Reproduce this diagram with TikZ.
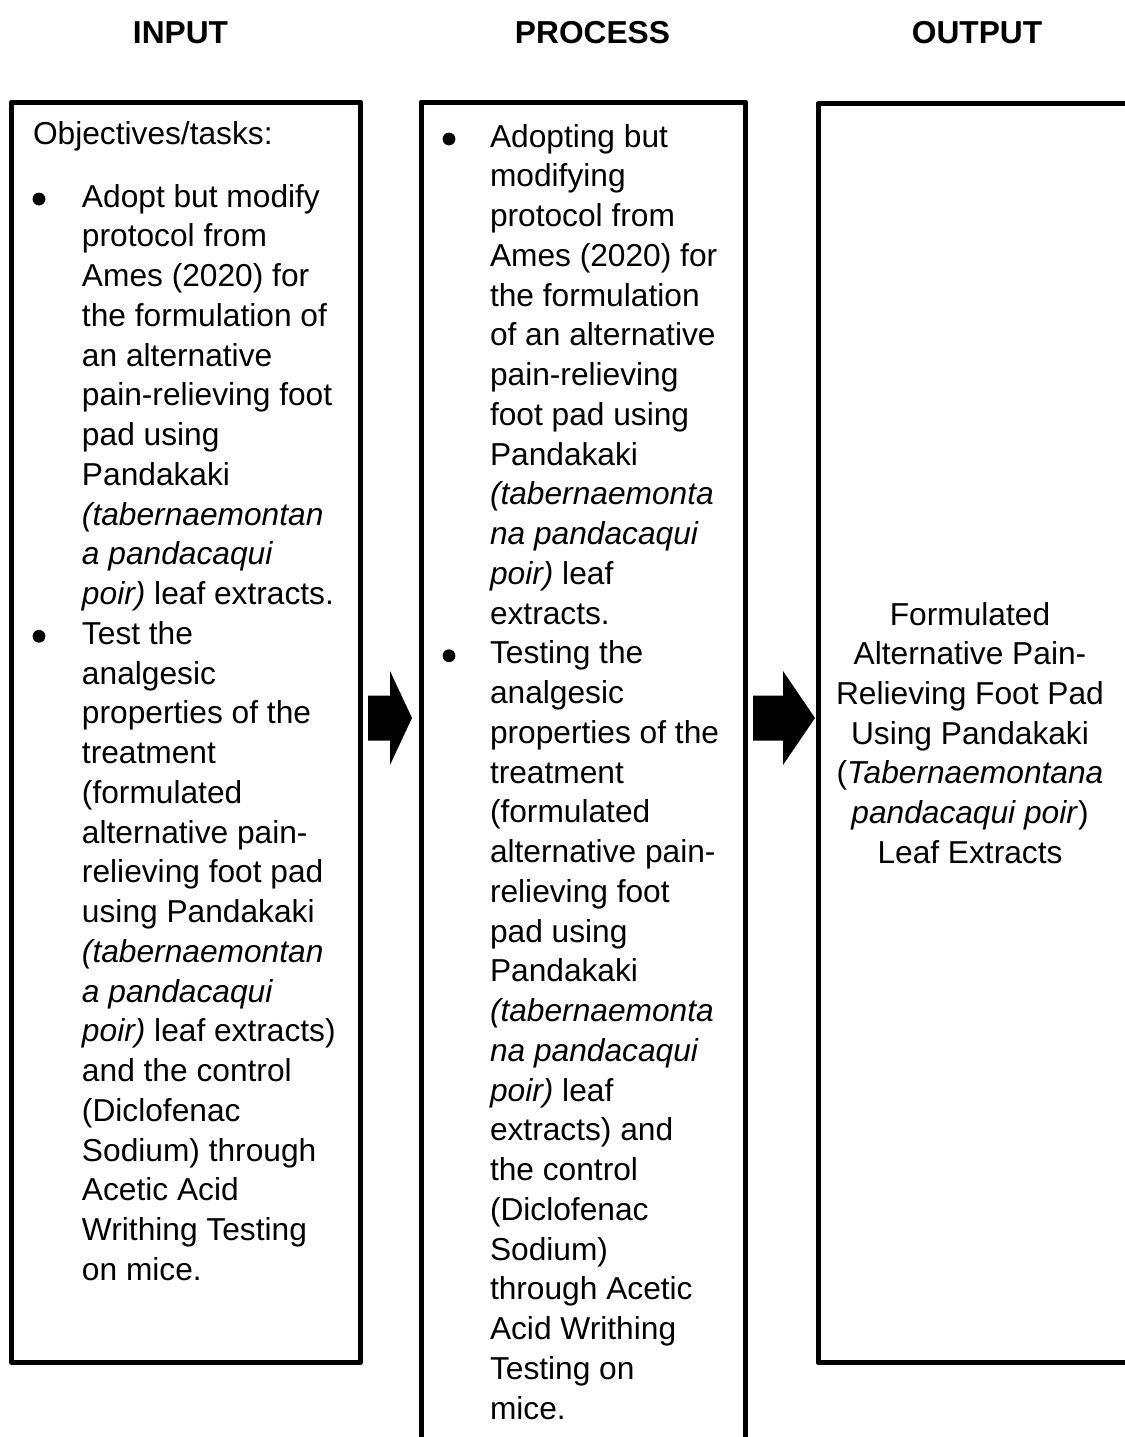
\documentclass[tikz,border=0pt]{standalone}
\usepackage{fontspec}
\setmainfont{Liberation Sans}
\begin{document}
\begin{tikzpicture}[x=0.5pt,y=-0.5pt,
  frame/.style={draw=black,line width=2.5pt,line join=round},
  txt/.style={inner sep=0pt,outer sep=0pt,font=\fontsize{15.85}{19}\selectfont,anchor=base west},
  ctxt/.style={txt,anchor=base},
  head/.style={inner sep=0pt,font=\fontsize{15.85}{19}\selectfont\bfseries,anchor=base},
  dot/.style={fill=black,draw=none},
  blockarrow/.style={fill=black,draw=none}]
\useasboundingbox (0,0) rectangle (1125,1437);
\clip (0,0) rectangle (1125,1437);
\fill[white] (0,0) rectangle (1125,1437);

% headers
\node[head] (hin) at (180.5,43) {INPUT};
\node[head] (hpr) at (592.5,43) {PROCESS};
\node[head] (hout) at (977,43) {OUTPUT};

% boxes
\coordinate (in-nw) at (11.5,102);
\coordinate (in-se) at (360.5,1362.5);
\draw[frame] (in-nw) rectangle (in-se);
\draw[frame] (421,1460) -- (421,102) -- (745.5,102) -- (745.5,1460);
\draw[frame] (1140,103.5) -- (818,103.5) -- (818,1362.5) -- (1140,1362.5);

% arrows
\path[blockarrow] (368,695.5) -- (390,695.5) -- (390,671) -- (412,718) -- (390,765) -- (390,740.5) -- (368,740.5) -- cycle;
\path[blockarrow] (753,695.5) -- (783,695.5) -- (783,671) -- (815,718) -- (783,765) -- (783,740.5) -- (753,740.5) -- cycle;

% input text
\node[txt] (obj) at (33,144) {Objectives/tasks:};
\foreach \t [count=\i from 0] in {
  {Adopt but modify}, {protocol from}, {Ames (2020) for}, {the formulation of},
  {an alternative}, {pain-relieving foot}, {pad using}, {Pandakaki},
  {\textit{(tabernaemontan}}, {\textit{a pandacaqui}}, {\textit{poir)} leaf extracts.},
  {Test the}, {analgesic}, {properties of the}, {treatment}, {(formulated},
  {alternative pain-}, {relieving foot pad}, {using Pandakaki},
  {\textit{(tabernaemontan}}, {\textit{a pandacaqui}}, {\textit{poir)} leaf extracts)},
  {and the control}, {(Diclofenac}, {Sodium) through}, {Acetic Acid},
  {Writhing Testing}, {on mice.}}
  \node[txt] (in-\i) at (82,207+39.75*\i) {\t};
\fill[dot] (39,199) circle[radius=3.2pt];
\fill[dot] (39,199+39.75*11) circle[radius=3.2pt];

% process text
\foreach \t [count=\i from 0] in {
  {Adopting but}, {modifying}, {protocol from}, {Ames (2020) for}, {the formulation},
  {of an alternative}, {pain-relieving}, {foot pad using}, {Pandakaki},
  {\textit{(tabernaemonta}}, {\textit{na pandacaqui}}, {\textit{poir)} leaf}, {extracts.},
  {Testing the}, {analgesic}, {properties of the}, {treatment}, {(formulated},
  {alternative pain-}, {relieving foot}, {pad using}, {Pandakaki},
  {\textit{(tabernaemonta}}, {\textit{na pandacaqui}}, {\textit{poir)} leaf},
  {extracts) and}, {the control}, {(Diclofenac}, {Sodium)}, {through Acetic},
  {Acid Writhing}, {Testing on}, {mice.}}
  \node[txt] (pr-\i) at (490,147+39.75*\i) {\t};
\fill[dot] (449,139) circle[radius=3.2pt];
\fill[dot] (449,139+39.75*13) circle[radius=3.2pt];

% output text
\foreach \t [count=\i from 0] in {
  {Formulated}, {Alternative Pain-}, {Relieving Foot Pad}, {Using Pandakaki},
  {(\textit{Tabernaemontana}}, {\textit{pandacaqui poir})}, {Leaf Extracts}}
  \node[ctxt] (out-\i) at (970,625+39.7*\i) {\t};
\end{tikzpicture}
\end{document}
